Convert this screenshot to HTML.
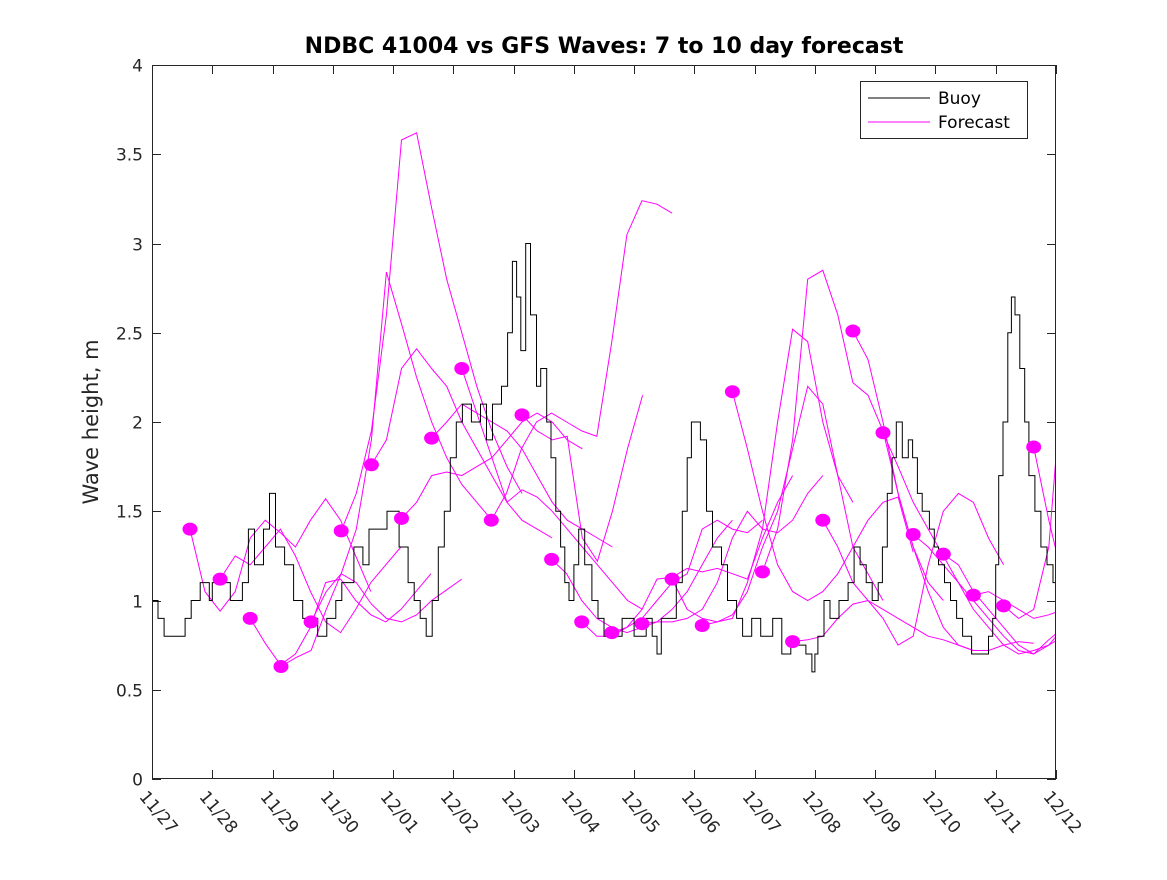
<!DOCTYPE html>
<html><head><meta charset="utf-8"><style>
body{margin:0;background:#fff;font-family:"Liberation Sans","DejaVu Sans",sans-serif}
svg text{font-family:"DejaVu Sans","Liberation Sans",sans-serif}
</style></head><body>
<svg id="chart" width="1167" height="875" viewBox="0 0 1167 875" xmlns="http://www.w3.org/2000/svg">
<rect width="1167" height="875" fill="#fff"/>
<text x="604" y="53" text-anchor="middle" font-size="22" font-weight="bold" fill="#000">NDBC 41004 vs GFS Waves: 7 to 10 day forecast</text>
<text transform="translate(98,422) rotate(-90)" text-anchor="middle" font-size="21" fill="#262626">Wave height, m</text>
<defs><clipPath id="plotclip"><rect x="152" y="65" width="904" height="714"/></clipPath></defs>
<g id="axes"></g>
<g id="series" clip-path="url(#plotclip)"></g>
<rect x="152.5" y="65.5" width="903" height="713" fill="none" stroke="#262626" stroke-width="1"/>
<g>
<rect x="860.5" y="81.5" width="167" height="57" fill="#fff" stroke="#262626"/>
<line x1="868" y1="98" x2="930" y2="98" stroke="#000"/>
<text x="938" y="104" font-size="17" fill="#000">Buoy</text>
<line x1="868" y1="122" x2="930" y2="122" stroke="#ff00ff"/>
<text x="938" y="128" font-size="17" fill="#000">Forecast</text>
</g>
</svg>
<script>
const xLabels=["11/27","11/28","11/29","11/30","12/01","12/02","12/03","12/04","12/05","12/06","12/07","12/08","12/09","12/10","12/11","12/12"];
const yTicks=[0,0.5,1,1.5,2,2.5,3,3.5,4];
const buoyDays=[0,0.1,0.2,0.55,0.65,0.8,0.95,1.0,1.3,1.5,1.6,1.7,1.85,1.95,2.05,2.2,2.35,2.5,2.75,2.9,3.05,3.15,3.35,3.5,3.6,3.9,4.1,4.25,4.35,4.45,4.55,4.65,4.75,4.85,4.95,5.05,5.15,5.3,5.45,5.55,5.65,5.8,5.9,5.98,6.05,6.12,6.2,6.28,6.38,6.45,6.55,6.62,6.7,6.78,6.85,6.92,7.0,7.08,7.18,7.3,7.4,7.5,7.7,7.8,8.0,8.2,8.3,8.38,8.45,8.6,8.7,8.8,8.88,8.95,9.1,9.2,9.3,9.45,9.55,9.7,9.8,9.95,10.1,10.3,10.45,10.6,10.85,10.95,11.0,11.05,11.15,11.25,11.4,11.55,11.65,11.75,11.85,11.95,12.05,12.12,12.2,12.28,12.35,12.45,12.55,12.62,12.7,12.78,12.9,12.98,13.05,13.15,13.25,13.35,13.45,13.6,13.78,13.88,13.95,14.0,14.05,14.12,14.2,14.26,14.32,14.4,14.48,14.55,14.65,14.75,14.85,14.95,15.0];
const buoyValues=[1.0,0.9,0.8,0.9,1.0,1.1,1.0,1.1,1.0,1.1,1.4,1.2,1.4,1.6,1.3,1.2,1.0,0.9,0.8,0.9,1.0,1.1,1.3,1.2,1.4,1.5,1.3,1.1,1.0,0.9,0.8,1.0,1.3,1.5,1.8,2.0,2.1,2.0,2.1,1.9,2.1,2.2,2.5,2.9,2.7,2.4,3.0,2.6,2.2,2.3,2.0,1.8,1.5,1.3,1.1,1.0,1.2,1.4,1.2,1.0,0.9,0.8,0.8,0.9,0.8,0.9,0.8,0.7,0.9,0.9,1.1,1.5,1.8,2.0,1.9,1.5,1.3,1.2,1.0,0.9,0.8,0.9,0.8,0.9,0.7,0.75,0.7,0.6,0.7,0.8,1.0,0.9,1.0,1.1,1.3,1.2,1.1,1.0,1.1,1.3,1.6,1.8,2.0,1.8,1.9,1.8,1.6,1.5,1.4,1.3,1.2,1.1,1.0,0.9,0.8,0.7,0.7,0.8,0.9,1.2,1.7,2.0,2.5,2.7,2.6,2.3,2.0,1.7,1.5,1.3,1.2,1.1,1.0];
const fcStartDays=[0.63,1.13,1.63,2.14,2.64,3.14,3.64,4.14,4.64,5.14,5.63,6.14,6.63,7.13,7.63,8.13,8.63,9.13,9.63,10.13,10.63,11.13,11.63,12.13,12.63,13.13,13.63,14.13,14.63];
const fc0=[1.40,1.05,0.94,1.05,1.35,1.45,1.38,1.30,1.45,1.57,1.45,1.25,1.05];
const fc1=[1.12,1.25,1.20,1.30,1.40,1.25,1.05,0.88,0.82,0.95,1.10,1.20,1.30];
const fc2=[0.90,0.76,0.64,0.70,0.85,1.10,1.12,1.00,0.92,0.88,0.95,1.05,1.15];
const fc3=[0.63,0.68,0.72,0.95,1.15,1.10,0.98,0.90,0.88,0.92,1.00,1.06,1.12];
const fc4=[0.88,1.05,1.15,1.40,1.90,2.84,2.55,2.25,2.00,1.80,1.65,1.55,1.45];
const fc5=[1.39,1.60,1.95,2.60,3.58,3.62,3.20,2.80,2.50,2.20,1.95,1.75,1.60];
const fc6=[1.76,1.90,2.30,2.41,2.30,2.20,2.00,1.85,1.70,1.55,1.45,1.40,1.35];
const fc7=[1.46,1.55,1.70,1.72,1.70,1.75,1.80,1.90,2.00,2.05,2.00,1.90,1.85];
const fc8=[1.91,2.00,2.10,2.05,2.00,1.95,1.85,1.70,1.55,1.45,1.40,1.35,1.30];
const fc9=[2.30,2.05,1.80,1.55,1.62,1.58,1.50,1.40,1.30,1.20,1.10,1.00,0.95];
const fc10=[1.45,1.60,1.85,2.00,2.05,2.00,1.95,1.92,2.45,3.05,3.24,3.22,3.17];
const fc11=[2.04,1.95,1.90,1.92,1.35,1.22,1.50,1.85,2.15];
const fc12=[1.23,1.15,1.00,0.90,0.85,0.82,0.85,0.88,0.95,1.05,1.20,1.35,1.45];
const fc13=[0.88,0.80,0.80,0.85,0.90,1.00,1.10,1.15,1.40,1.45,1.40,1.38,1.45];
const fc14=[0.82,0.85,0.95,1.12,1.13,1.18,1.16,1.18,1.15,1.12,1.35,1.55,1.70];
const fc15=[0.87,0.88,0.88,0.90,0.95,1.10,1.35,1.50,1.40,1.38,1.45,1.60,1.70];
const fc16=[1.12,0.95,0.90,0.88,0.90,1.10,1.40,2.00,2.52,2.45,2.00,1.70,1.55];
const fc17=[0.86,0.88,0.92,1.05,1.30,1.50,1.85,2.20,2.10,1.70,1.30,1.15,1.00];
const fc18=[2.17,1.85,1.50,1.20,1.05,1.00,1.05,1.15,1.30,1.45,1.55,1.58,1.27];
const fc19=[1.16,1.40,1.90,2.80,2.85,2.60,2.22,2.15,1.95,1.60,1.30,1.10,1.00];
const fc20=[0.77,0.78,0.80,0.90,0.98,1.00,0.95,0.90,0.85,0.80,0.78,0.75,0.72];
const fc21=[1.45,1.30,1.10,1.00,0.90,0.75,0.80,1.20,1.50,1.60,1.55,1.35,1.20];
const fc22=[2.51,2.35,2.00,1.60,1.30,1.05,0.85,0.75,0.72,0.72,0.75,0.77,0.76];
const fc23=[1.94,1.75,1.55,1.40,1.25,1.10,0.95,0.85,0.75,0.70,0.72,0.75,0.80];
const fc24=[1.37,1.30,1.20,1.10,1.00,0.90,0.80,0.72,0.70,0.75,0.85,0.90,0.92];
const fc25=[1.26,1.20,1.05,0.95,0.85,0.75,0.70,0.78,0.85,0.95,1.00,1.20,1.55];
const fc26=[1.03,1.05,1.00,0.95,0.90,0.92,0.95,1.20,1.55,1.72,1.65,1.55,1.45];
const fc27=[0.97,0.90,0.95,1.30,2.35,2.38,2.44,2.35,2.10,1.55];
const fc28=[1.86,1.45,1.10,0.95];
const forecasts=[fc0,fc1,fc2,fc3,fc4,fc5,fc6,fc7,fc8,fc9,fc10,fc11,fc12,fc13,fc14,fc15,fc16,fc17,fc18,fc19,fc20,fc21,fc22,fc23,fc24,fc25,fc26,fc27,fc28];
const fcStep=0.25;

const X0=152,X1=1056,Y0=779,Y1=65;
function xs(d){return X0+d*(X1-X0)/15;}
function ys(v){return Y0-v*(Y0-Y1)/4;}
const NS="http://www.w3.org/2000/svg";
function mk(tag,attrs,parent){const e=document.createElementNS(NS,tag);for(const k in attrs)e.setAttribute(k,attrs[k]);parent.appendChild(e);return e;}
const axes=document.getElementById('axes'), series=document.getElementById('series');

yTicks.forEach(v=>{
  const y=Math.round(ys(v))+0.5;
  const t=mk('line',{x1:X0,y1:y,x2:X0+9,y2:y,stroke:'#262626'},axes);
  
  
  const t2=mk('line',{x1:X1-9,y1:y,x2:X1,y2:y,stroke:'#262626'},axes);
  
  
  const l=mk('text',{x:X0-9,y:y+6,'text-anchor':'end','font-size':'17',fill:'#262626'},axes);
  l.textContent=String(v);
  
  
});
xLabels.forEach((s,i)=>{
  const x=Math.round(xs(i))+0.5;
  const t=mk('line',{x1:x,y1:Y0,x2:x,y2:Y0-9,stroke:'#262626'},axes);
  
  
  const t2=mk('line',{x1:x,y1:Y1,x2:x,y2:Y1+9,stroke:'#262626'},axes);
  
  
  const l=mk('text',{x:0,y:0,'font-size':'17',fill:'#262626',transform:`translate(${x-14},${Y0+18}) rotate(50)`},axes);
  l.textContent=s;
  
  
});

forecasts.forEach((arr,k)=>{
  const pts=arr.map((v,i)=>xs(fcStartDays[k]+i*fcStep).toFixed(1)+','+ys(v).toFixed(1)).join(' ');
  const p=mk('polyline',{points:pts,fill:'none',stroke:'#ff00ff','stroke-width':'1'},series);
  
  
});
let d='M'+xs(buoyDays[0]).toFixed(1)+','+ys(buoyValues[0]).toFixed(1);
for(let i=1;i<buoyDays.length;i++){
  d+=' H'+xs(buoyDays[i]).toFixed(1)+' V'+ys(buoyValues[i]).toFixed(1);
}
const b=mk('path',{d:d,fill:'none',stroke:'#000','stroke-width':'1'},series);


forecasts.forEach((arr,k)=>{
  const c=mk('ellipse',{cx:xs(fcStartDays[k]).toFixed(1),cy:ys(arr[0]).toFixed(1),rx:7.5,ry:6.5,fill:'#ff00ff'},series);
  
  
});
</script>
</body></html>
